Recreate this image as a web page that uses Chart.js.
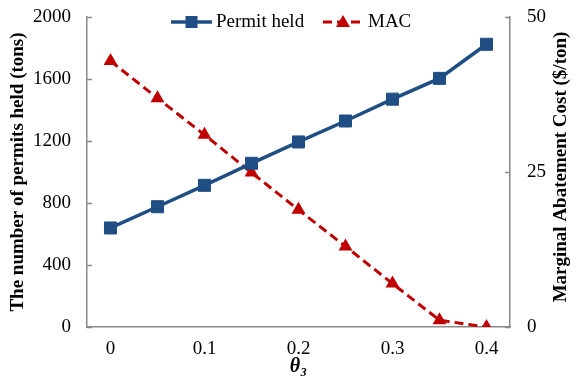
<!DOCTYPE html>
<html>
<head>
<meta charset="utf-8">
<script src="https://cdn.jsdelivr.net/npm/chart.js@4.4.1/dist/chart.umd.min.js"></script>
<style>
  html, body { margin: 0; padding: 0; background: #ffffff; }
  #wrap { width: 587px; height: 386px; }
</style>
</head>
<body>
<div id="wrap"><canvas id="grafico" width="587" height="386"></canvas></div>
<script>
// valores
const theta = ['0', '0.05', '0.1', '0.15', '0.2', '0.25', '0.3', '0.35', '0.4'];
const permitHeld = [639, 776, 914, 1056, 1194, 1329, 1470, 1604, 1824];
const mac = [42.9, 36.9, 31.0, 24.9, 18.9, 13.0, 7.0, 1.1, 0];
const ticksIzq = [0, 400, 800, 1200, 1600, 2000];
const ticksDer = [0, 25, 50];

const AZUL = '#1f4e85';
const ROJO = '#c00000';
const GRIS = '#898989';
const FUENTE = "'Liberation Serif', 'Times New Roman', serif";

// marcas de eje hacia dentro (como en Excel) y título derecho leído de abajo arriba
const marcasInternas = {
    id: 'marcasInternas',
    afterDraw(chart) {
        const ctx = chart.ctx;
        const area = chart.chartArea;
        ctx.save();
        ctx.strokeStyle = GRIS;
        ctx.lineWidth = 1.5;
        ticksIzq.forEach(v => {
            const y = Math.round(chart.scales.y.getPixelForValue(v)) + 0.5;
            ctx.beginPath(); ctx.moveTo(area.left, y); ctx.lineTo(area.left + 5, y); ctx.stroke();
        });
        ticksDer.forEach(v => {
            const y = Math.round(chart.scales.y1.getPixelForValue(v)) + 0.5;
            ctx.beginPath(); ctx.moveTo(area.right, y); ctx.lineTo(area.right - 5, y); ctx.stroke();
        });

        ctx.translate(561, 167);
        ctx.rotate(-Math.PI / 2);
        ctx.font = 'bold 19px ' + FUENTE;
        ctx.fillStyle = '#000';
        ctx.textAlign = 'center';
        ctx.textBaseline = 'middle';
        ctx.fillText('Marginal Abatement Cost ($/ton)', 0, 0);
        ctx.restore();
    }
};

// leyenda estilo Excel: línea con marcador en medio
const leyenda = {
    id: 'leyendaExcel',
    afterDraw(chart) {
        const ctx = chart.ctx;
        const yc = 22;
        ctx.save();
        ctx.font = '19px ' + FUENTE;
        ctx.textBaseline = 'middle';

        ctx.strokeStyle = AZUL; ctx.lineWidth = 3.5;
        ctx.beginPath(); ctx.moveTo(171, yc); ctx.lineTo(212, yc); ctx.stroke();
        ctx.fillStyle = AZUL; ctx.fillRect(185.5, yc - 6, 12, 12);
        ctx.fillStyle = '#000';
        ctx.fillText('Permit held', 216, yc);

        ctx.strokeStyle = ROJO; ctx.lineWidth = 3;
        ctx.setLineDash([9, 5]);
        ctx.beginPath(); ctx.moveTo(323, yc); ctx.lineTo(363, yc); ctx.stroke();
        ctx.setLineDash([]);
        ctx.fillStyle = ROJO;
        ctx.beginPath();
        ctx.moveTo(343, yc - 7); ctx.lineTo(350, yc + 5); ctx.lineTo(336, yc + 5); ctx.closePath(); ctx.fill();
        ctx.fillStyle = '#000';
        ctx.fillText('MAC', 368, yc);
        ctx.restore();
    }
};

// ancho fijo del eje vertical y sin relleno automático arriba/abajo
const ajusteVertical = ancho => s => {
    s.width = ancho;
    s.paddingTop = 0;
    s.paddingBottom = 0;
};

new Chart(document.getElementById('grafico').getContext('2d'), {
    type: 'line',
    data: {
        labels: theta,
        datasets: [{
            label: 'Permit held',
            data: permitHeld,
            yAxisID: 'y',
            borderColor: AZUL,
            backgroundColor: AZUL,
            borderWidth: 3.5,
            pointStyle: 'rect',
            pointRadius: 8.5,
            pointBorderWidth: 1,
            pointBorderColor: AZUL,
            pointBackgroundColor: AZUL,
            tension: 0
        }, {
            label: 'MAC',
            data: mac,
            yAxisID: 'y1',
            borderColor: ROJO,
            backgroundColor: ROJO,
            borderWidth: 3,
            borderDash: [9, 5],
            pointStyle: 'triangle',
            pointRadius: 8,
            pointBorderWidth: 0,
            pointBackgroundColor: ROJO,
            tension: 0
        }]
    },
    options: {
        responsive: false,
        animation: false,
        layout: { padding: { top: 17, left: 0, right: 0, bottom: 0 } },
        plugins: {
            legend: { display: false },
            tooltip: { enabled: false }
        },
        scales: {
            x: {
                offset: true,
                grid: { display: false, drawTicks: false },
                border: { display: true, color: GRIS, width: 1.5 },
                ticks: {
                    autoSkip: false,
                    maxRotation: 0,
                    padding: 11,
                    color: '#000',
                    font: { family: FUENTE, size: 19 },
                    callback: (v, i) => i % 2 === 0 ? theta[i] : ''
                },
                title: {
                    display: true,
                    text: 'θ₃',
                    color: '#000',
                    font: { family: FUENTE, size: 20, weight: 'bold', style: 'italic' },
                    padding: { top: 0, bottom: 7 }
                },
                afterFit: s => { s.height = 59; }
            },
            y: {
                position: 'left',
                min: 0, max: 2000,
                afterBuildTicks: s => { s.ticks = ticksIzq.map(v => ({ value: v })); },
                grid: { display: false, drawTicks: false },
                border: { display: true, color: GRIS, width: 1.5 },
                ticks: { padding: 16, color: '#000', font: { family: FUENTE, size: 19 }, callback: v => String(v) },
                title: {
                    display: true,
                    text: 'The number of permits held (tons)',
                    color: '#000',
                    font: { family: FUENTE, size: 19, weight: 'bold' },
                    padding: { top: 7, bottom: 0 }
                },
                afterFit: ajusteVertical(87)
            },
            y1: {
                position: 'right',
                min: 0, max: 50,
                afterBuildTicks: s => { s.ticks = ticksDer.map(v => ({ value: v })); },
                grid: { display: false, drawTicks: false },
                border: { display: true, color: GRIS, width: 1.5 },
                ticks: { padding: 17, color: '#000', font: { family: FUENTE, size: 19 }, callback: v => String(v) },
                title: { display: false },
                afterFit: ajusteVertical(77)
            }
        }
    },
    plugins: [marcasInternas, leyenda]
});
</script>
</body>
</html>
